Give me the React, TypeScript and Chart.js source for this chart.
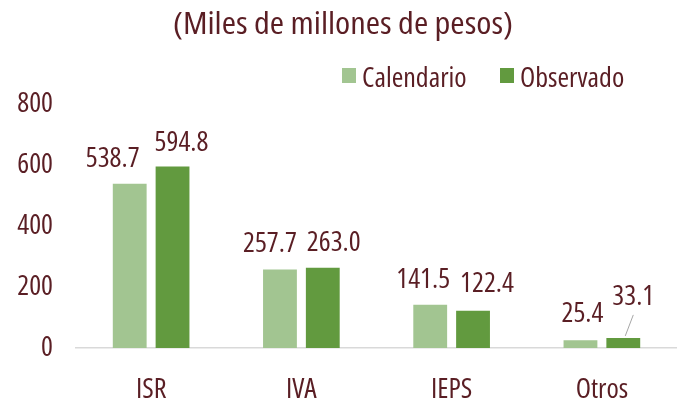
import React, { useEffect, useRef } from "react";
import { Chart, registerables } from "chart.js";

Chart.register(...registerables);

const categories = ["ISR", "IVA", "IEPS", "Otros"];
const calendario = [538.7, 257.7, 141.5, 25.4];
const observado = [594.8, 263.0, 122.4, 33.1];
const yTicks = [0, 200, 400, 600, 800];
const seriesNames = ["Calendario", "Observado"];
const titleText = "(Miles de millones de pesos)";

// label placement tweaks (style only): horizontal shift and baseline gap above bar top
const labelDx = [
  [-17, -10, -7, 2],
  [9, 11, 14, 10],
];
const labelGap = [
  [17, 17, 17, 18],
  [16, 17, 19, 33],
];

const FAMILY = '"Open Sans", sans-serif';
const STRETCH = "condensed";
const TEXT = "#5A1E24";
const LIGHT = "#A2C591";
const DARK = "#629A3F";

const decorPlugin = {
  id: "decor",
  afterDatasetsDraw(chart: any) {
    const ctx = chart.ctx;
    ctx.save();
    // title (slightly wider than the condensed face)
    ctx.fillStyle = TEXT;
    ctx.font = `${STRETCH} 30px ${FAMILY}`;
    ctx.textAlign = "center";
    ctx.textBaseline = "alphabetic";
    const tw = ctx.measureText(titleText).width;
    ctx.save();
    ctx.translate(343, 34);
    ctx.scale(340 / tw, 1);
    ctx.fillText(titleText, 0, 0);
    ctx.restore();
    // legend
    const legendItems = [
      { x: 342, color: LIGHT, text: seriesNames[0] },
      { x: 500, color: DARK, text: seriesNames[1] },
    ];
    ctx.font = `${STRETCH} 28px ${FAMILY}`;
    ctx.textAlign = "left";
    legendItems.forEach((it) => {
      ctx.fillStyle = it.color;
      ctx.fillRect(it.x, 68, 14, 15);
      ctx.fillStyle = TEXT;
      ctx.fillText(it.text, it.x + 20, 87);
    });
    // data labels
    ctx.textAlign = "center";
    ctx.textBaseline = "alphabetic";
    ctx.font = `${STRETCH} 28px ${FAMILY}`;
    chart.data.datasets.forEach((ds: any, di: number) => {
      const meta = chart.getDatasetMeta(di);
      meta.data.forEach((bar: any, i: number) => {
        const v = ds.data[i];
        const cx = bar.x + labelDx[di][i];
        const by = bar.y - labelGap[di][i];
        ctx.fillStyle = TEXT;
        ctx.fillText(v.toFixed(1), cx, by);
        if (labelGap[di][i] > 30) {
          ctx.strokeStyle = "#A6A6A6";
          ctx.lineWidth = 1;
          ctx.beginPath();
          ctx.moveTo(bar.x + 2, bar.y - 2);
          ctx.lineTo(bar.x + 10, by + 10);
          ctx.stroke();
        }
      });
    });
    ctx.restore();
  },
};

export default function App() {
  const ref = useRef<HTMLCanvasElement>(null);
  useEffect(() => {
    if (!ref.current) return;
    const tickFont = { family: FAMILY, size: 28, weight: STRETCH as any };
    const chart = new Chart(ref.current, {
      type: "bar",
      data: {
        labels: categories,
        datasets: [
          {
            label: seriesNames[0],
            data: calendario,
            backgroundColor: LIGHT,
            categoryPercentage: 0.57,
            barPercentage: 0.79,
          },
          {
            label: seriesNames[1],
            data: observado,
            backgroundColor: DARK,
            categoryPercentage: 0.57,
            barPercentage: 0.79,
          },
        ],
      },
      options: {
        responsive: false,
        animation: false,
        events: [],
        layout: { padding: { top: 104, left: 0, right: 0, bottom: 0 } },
        plugins: {
          legend: { display: false },
          title: { display: false },
          tooltip: { enabled: false },
        },
        scales: {
          x: {
            grid: { display: false, drawTicks: false },
            border: { display: true, color: "#D9D9D9", width: 1.5 },
            ticks: { color: TEXT, font: tickFont, padding: 25 },
            afterFit: (s: any) => {
              s.height = 57;
            },
          },
          y: {
            min: 0,
            max: 800,
            afterBuildTicks: (s: any) => {
              s.ticks = yTicks.map((v) => ({ value: v }));
            },
            grid: { display: false, drawTicks: false },
            border: { display: false },
            ticks: { color: TEXT, font: tickFont, padding: 23 },
            afterFit: (s: any) => {
              s.width = 76;
            },
          },
        },
      },
      plugins: [decorPlugin],
    });
    return () => chart.destroy();
  }, []);
  return (
    <div style={{ position: "absolute", left: 0, top: 0, width: 677, height: 405, background: "#fff" }}>
      <canvas ref={ref} width={677} height={405} style={{ display: "block" }} />
    </div>
  );
}
